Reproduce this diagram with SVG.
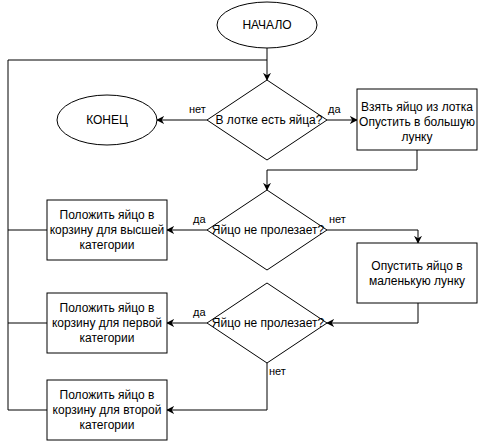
<svg xmlns="http://www.w3.org/2000/svg" width="478" height="441" viewBox="0 0 478 441">
<defs>
<marker id="arr" viewBox="0 0 10 10" refX="9" refY="5" markerWidth="8" markerHeight="8" markerUnits="userSpaceOnUse" orient="auto">
<path d="M0,0 L10,5 L0,10 L3,5 z" fill="#000"/>
</marker>
<style>
.s{fill:#fff;stroke:#000;stroke-width:1}
.c{fill:none;stroke:#000;stroke-width:1}
.t{font-family:"Liberation Sans",Arial,sans-serif;font-size:12px;fill:#000;text-anchor:middle}
.l{font-family:"Liberation Sans",Arial,sans-serif;font-size:11px;fill:#000}
</style>
</defs>
<rect width="478" height="441" fill="#fff"/>
<g id="connectors">
<path class="c" d="M267,48 V80" marker-end="url(#arr)"/>
<path class="c" d="M8,60 H267"/>
<path class="c" d="M8,60 V410"/>
<path class="c" d="M8,230 H47"/>
<path class="c" d="M8,323 H47"/>
<path class="c" d="M8,410 H47"/>
<path class="c" d="M207,120 H157" marker-end="url(#arr)"/>
<path class="c" d="M327,120 H357" marker-end="url(#arr)"/>
<path class="c" d="M417,150 V170 H267 V190" marker-end="url(#arr)"/>
<path class="c" d="M207,230 H167" marker-end="url(#arr)"/>
<path class="c" d="M327,230 H418 V243" marker-end="url(#arr)"/>
<path class="c" d="M418,303 V323 H327" marker-end="url(#arr)"/>
<path class="c" d="M207,323 H167" marker-end="url(#arr)"/>
<path class="c" d="M267,363 V410 H167" marker-end="url(#arr)"/>
<text class="l" x="189" y="113">нет</text>
<text class="l" x="328" y="113">да</text>
<text class="l" x="193" y="223">да</text>
<text class="l" x="329" y="223">нет</text>
<text class="l" x="193" y="316">да</text>
<text class="l" x="269" y="375">нет</text>
</g>
<g id="start">
<ellipse class="s" cx="267" cy="25" rx="50" ry="23"/>
<text class="t" x="267" y="29">НАЧАЛО</text>
</g>
<g id="end">
<ellipse class="s" cx="107" cy="120" rx="50" ry="25"/>
<text class="t" x="107" y="124">КОНЕЦ</text>
</g>
<g id="d1">
<path class="s" d="M267,80 L327,120 L267,160 L207,120 z"/>
<text class="t" x="269" y="124">В лотке есть яйца?</text>
</g>
<g id="b1">
<rect class="s" x="357" y="89" width="120" height="61"/>
<text class="t" x="417" y="111">Взять яйцо из лотка</text>
<text class="t" x="417" y="126">Опустить в большую</text>
<text class="t" x="417" y="141">лунку</text>
</g>
<g id="d2">
<path class="s" d="M267,190 L327,230 L267,270 L207,230 z"/>
<text class="t" x="268" y="234">Яйцо не пролезает?</text>
</g>
<g id="b2">
<rect class="s" x="47" y="200" width="120" height="60"/>
<text class="t" x="107" y="219">Положить яйцо в</text>
<text class="t" x="107" y="234">корзину для высшей</text>
<text class="t" x="107" y="249">категории</text>
</g>
<g id="b3">
<rect class="s" x="357" y="243" width="120" height="60"/>
<text class="t" x="417" y="270">Опустить яйцо в</text>
<text class="t" x="417" y="285">маленькую лунку</text>
</g>
<g id="d3">
<path class="s" d="M267,283 L327,323 L267,363 L207,323 z"/>
<text class="t" x="268" y="327">Яйцо не пролезает?</text>
</g>
<g id="b4">
<rect class="s" x="47" y="293" width="120" height="60"/>
<text class="t" x="107" y="312">Положить яйцо в</text>
<text class="t" x="107" y="327">корзину для первой</text>
<text class="t" x="107" y="342">категории</text>
</g>
<g id="b5">
<rect class="s" x="47" y="380" width="120" height="60"/>
<text class="t" x="107" y="399">Положить яйцо в</text>
<text class="t" x="107" y="414">корзину для второй</text>
<text class="t" x="107" y="429">категории</text>
</g>
</svg>
